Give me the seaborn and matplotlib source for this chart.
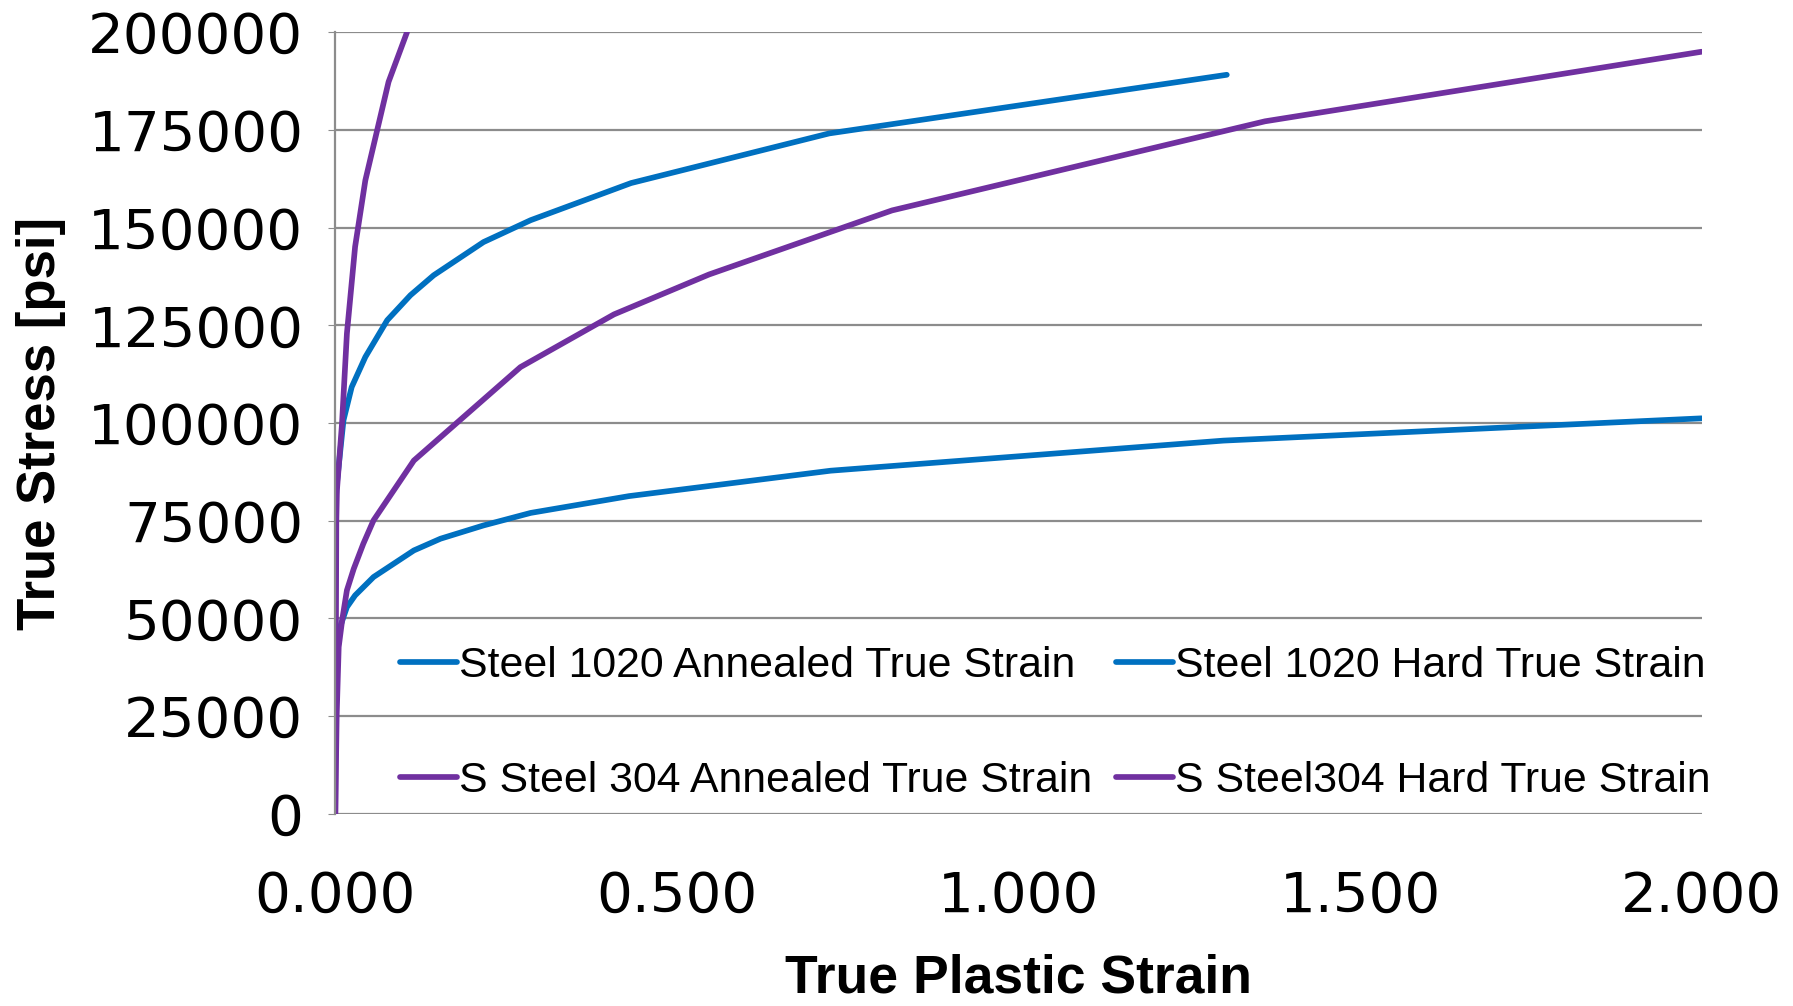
import numpy as np
import pandas as pd
import seaborn as sns
import matplotlib.pyplot as plt
from matplotlib.ticker import FormatStrFormatter

sns.set_style('white')
plt.rcParams['font.family'] = ['DejaVu Sans']
plt.rcParams['text.color'] = 'black'
plt.rcParams['axes.labelcolor'] = 'black'
plt.rcParams['xtick.color'] = 'black'
plt.rcParams['ytick.color'] = 'black'

# values
strain_1020_ann = [0.0, 0.007, 0.017, 0.029, 0.056, 0.115, 0.154, 0.217, 0.286, 0.430, 0.725, 1.300, 2.000]
stress_1020_ann = [36000, 47800, 52900, 55900, 60600, 67400, 70400, 73800, 77000, 81300, 87800, 95500, 101200]

strain_1020_hard = [0.0, 0.002, 0.012, 0.024, 0.044, 0.076, 0.110, 0.144, 0.217, 0.286, 0.433, 0.723, 1.305]
stress_1020_hard = [78000, 84000, 100700, 109200, 116900, 126300, 132700, 137800, 146300, 151900, 161400, 174100, 189100]

strain_304_ann = [0.0, 0.002, 0.005, 0.010, 0.017, 0.027, 0.041, 0.056, 0.115, 0.271, 0.408, 0.547, 0.815, 1.361, 2.000]
stress_304_ann = [0, 25000, 42700, 49500, 57200, 62700, 69100, 75100, 90400, 114300, 127800, 138000, 154400, 177200, 195000]

strain_304_hard = [0.0, 0.0015, 0.0024, 0.0098, 0.017, 0.029, 0.044, 0.078, 0.105]
stress_304_hard = [0, 75000, 82800, 99800, 122900, 145100, 162100, 187300, 200000]

names = ['Steel 1020 Annealed True Strain', 'S Steel 304 Annealed True Strain',
         'Steel 1020 Hard True Strain', 'S Steel304 Hard True Strain']
blue = '#0070C0'
purple = '#7030A0'
colors = {names[0]: blue, names[1]: purple, names[2]: blue, names[3]: purple}

frames = []
for name, xs, ys in [(names[0], strain_1020_ann, stress_1020_ann),
                     (names[1], strain_304_ann, stress_304_ann),
                     (names[2], strain_1020_hard, stress_1020_hard),
                     (names[3], strain_304_hard, stress_304_hard)]:
    frames.append(pd.DataFrame({'strain': xs, 'stress': ys, 'series': name}))
df = pd.concat(frames, ignore_index=True)

fig = plt.figure(figsize=(17.93, 10.06), dpi=100)
ax = fig.add_axes([0.187, 0.191, 0.762, 0.777])

sns.lineplot(data=df, x='strain', y='stress', hue='series', hue_order=names,
             palette=colors, sort=False, estimator=None, linewidth=4.1, ax=ax)

ax.set_xlim(0, 2.0)
ax.set_ylim(0, 200000)
ax.set_xticks(np.arange(0, 2.01, 0.5))
ax.set_yticks(np.arange(0, 200001, 25000))
ax.xaxis.set_major_formatter(FormatStrFormatter('%.3f'))
ax.yaxis.grid(True, color='#8c8c8c', linewidth=1.6)
ax.set_axisbelow(True)
for s in ['top', 'right', 'bottom']:
    ax.spines[s].set_visible(False)
ax.spines['left'].set_color('#8c8c8c')
ax.spines['left'].set_linewidth(1.6)
ax.tick_params(axis='y', labelsize=40.5, length=5, color='#8c8c8c', pad=18, direction='out', left=True)
ax.tick_params(axis='x', labelsize=40.5, length=0, pad=40)

narrow = ['Liberation Sans', 'DejaVu Sans']
ax.set_xlabel('True Plastic Strain', fontsize=38.5, fontweight='bold', family=narrow, labelpad=22)
ax.set_ylabel('True Stress [psi]', fontsize=38, fontweight='bold', family=narrow, labelpad=16)

leg = ax.legend(ncol=2, loc='lower left', bbox_to_anchor=(0.035, -0.005), frameon=False,
                borderaxespad=0, prop={'family': narrow, 'size': 30.8},
                handlelength=1.33, handletextpad=0.05, columnspacing=0.55, labelspacing=1.75)
for line in leg.get_lines():
    line.set_linewidth(4.1)

plt.savefig('out.png', dpi=100)
